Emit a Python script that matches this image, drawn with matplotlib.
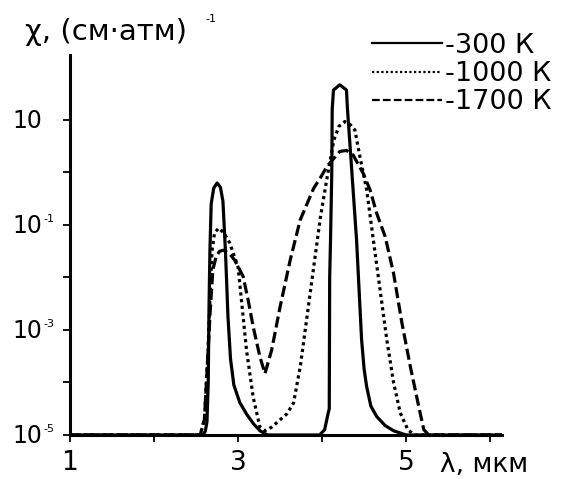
import numpy as np
import matplotlib.pyplot as plt
from matplotlib.transforms import offset_copy

plt.rcParams['font.family'] = ['DejaVu Sans']

# wavelength, um  /  log10(chi)
x_300 = [1.0, 2.5, 2.58, 2.61, 2.63, 2.645, 2.655, 2.665, 2.68, 2.71, 2.75, 2.79, 2.82,
         2.85, 2.88, 2.91, 2.95, 3.02, 3.10, 3.18, 3.26, 3.35, 3.97, 4.03, 4.07, 4.085,
         4.09, 4.10, 4.115, 4.12, 4.135, 4.21, 4.29, 4.30, 4.35, 4.41, 4.45, 4.47, 4.50,
         4.53, 4.58, 4.65, 4.75, 4.85, 5.0, 6.14]
lg_300 = [-5, -5, -5, -4.93, -4.75, -4.0, -2.5, -1.5, -0.6, -0.3, -0.2, -0.28, -0.55,
          -1.5, -2.75, -3.55, -4.05, -4.38, -4.6, -4.78, -4.92, -5, -5, -4.9, -4.6, -4.5,
          -2.0, -1.29, 0.0, 1.2, 1.57, 1.67, 1.57, 1.25, 0.1, -1.29, -2.56, -3.19, -3.75,
          -4.08, -4.45, -4.65, -4.82, -4.92, -5, -5]

x_1000 = [1.0, 2.55, 2.6, 2.64, 2.67, 2.69, 2.72, 2.77, 2.83, 2.90, 3.0, 3.04, 3.10,
          3.18, 3.26, 3.32, 3.40, 3.5, 3.58, 3.66, 3.74, 3.82, 3.90, 3.98, 4.06, 4.14,
          4.20, 4.27, 4.33, 4.39, 4.45, 4.53, 4.61, 4.69, 4.77, 4.85, 4.93, 5.02, 5.1, 6.14]
lg_1000 = [-5, -5, -4.7, -3.5, -2.2, -1.5, -1.15, -1.06, -1.15, -1.34, -1.8, -2.43, -3.38,
           -4.28, -4.85, -4.92, -4.85, -4.71, -4.6, -4.39, -3.7, -2.75, -1.8, -0.85, -0.09,
           0.62, 0.88, 0.97, 0.92, 0.81, 0.3, -0.33, -1.29, -2.24, -3.19, -4.0, -4.58, -4.9,
           -5, -5]

x_1700 = [1.0, 2.55, 2.6, 2.64, 2.67, 2.70, 2.74, 2.78, 2.83, 2.90, 2.96, 3.06, 3.12,
          3.18, 3.26, 3.32, 3.40, 3.50, 3.62, 3.74, 3.90, 3.98, 4.06, 4.21, 4.29, 4.37,
          4.49, 4.57, 4.65, 4.75, 4.85, 4.95, 5.05, 5.15, 5.21, 5.27, 6.14]
lg_1700 = [-5, -5, -4.7, -3.5, -2.6, -1.85, -1.6, -1.5, -1.48, -1.55, -1.67, -1.98, -2.43,
           -2.94, -3.51, -3.83, -3.38, -2.56, -1.67, -0.9, -0.3, -0.1, 0.12, 0.40, 0.42, 0.33,
           -0.02, -0.33, -0.78, -1.22, -1.92, -2.87, -3.7, -4.46, -4.9, -5, -5]

labels = ['-300 К', '-1000 К', '-1700 К']
xticks = [1, 2, 3, 4, 5, 6]
xticklabels = ['1', '', '3', '', '5', '']
yticks = [1e-5, 1e-4, 1e-3, 1e-2, 1e-1, 1e0, 1e1]
ylabel_pos = [1e-5, 1e-3, 1e-1, 1e1]
ylabel_exp = ['-5', '-3', '-1', '']

fig = plt.figure(figsize=(5.88, 4.79), dpi=100)
ax = fig.add_axes([0.119, 0.0919, 0.7347, 0.7933])

lw = 2.3
ax.plot(x_300, 10 ** np.array(lg_300), color='black', lw=lw, label=labels[0])
ax.plot(x_1000, 10 ** np.array(lg_1000), color='black', lw=lw, linestyle=(0, (1, 1.1)),
        label=labels[1])
ax.plot(x_1700, 10 ** np.array(lg_1700), color='black', lw=lw, linestyle=(0, (3.5, 1.4)),
        label=labels[2])

ax.set_yscale('log')
ax.set_xlim(1, 6.14)
ax.set_ylim(1e-5, 10 ** 2.238)
ax.set_xticks(xticks)
ax.set_xticklabels(xticklabels)
ax.set_yticks(yticks)
ax.set_yticklabels([])
ax.yaxis.set_minor_locator(plt.NullLocator())
ax.tick_params(axis='x', labelsize=19, length=5, width=1.3, pad=6)
ax.tick_params(axis='y', length=5, width=1.3)

for s in ['top', 'right']:
    ax.spines[s].set_visible(False)
for s in ['left', 'bottom']:
    ax.spines[s].set_linewidth(2.2)

# x axis name sits where the "6" label would be
xtr = ax.get_xaxis_transform()
ax.text(5.93, 0, 'λ, мкм', fontsize=19, ha='center', va='baseline',
        transform=offset_copy(xtr, fig, y=-37, units='dots'))

# y tick labels "10" with small exponent
ytr = ax.get_yaxis_transform()
for yv, ex in zip(ylabel_pos, ylabel_exp):
    ax.text(-0.065, yv, '10', fontsize=17, ha='right', va='center',
            transform=offset_copy(ytr, fig, y=-1, units='dots'))
    if ex:
        ax.text(-0.062, yv, ex, fontsize=8, ha='left', va='center',
                transform=offset_copy(ytr, fig, y=6, units='dots'))

leg = ax.legend(loc='upper left', bbox_to_anchor=(0.699, 1.058), frameon=False, fontsize=19.5,
                handlelength=2.6, handletextpad=0.1, labelspacing=0.08, borderpad=0,
                borderaxespad=0)
for h in leg.get_lines():
    h.set_linewidth(1.6)

fig.text(25 / 588, 1 - 40 / 479, 'χ, (см·атм)', fontsize=21, ha='left', va='baseline')
fig.text(205 / 588, 1 - 22 / 479, '-1', fontsize=8, ha='left', va='baseline')

fig.savefig('out.png', dpi=100)
